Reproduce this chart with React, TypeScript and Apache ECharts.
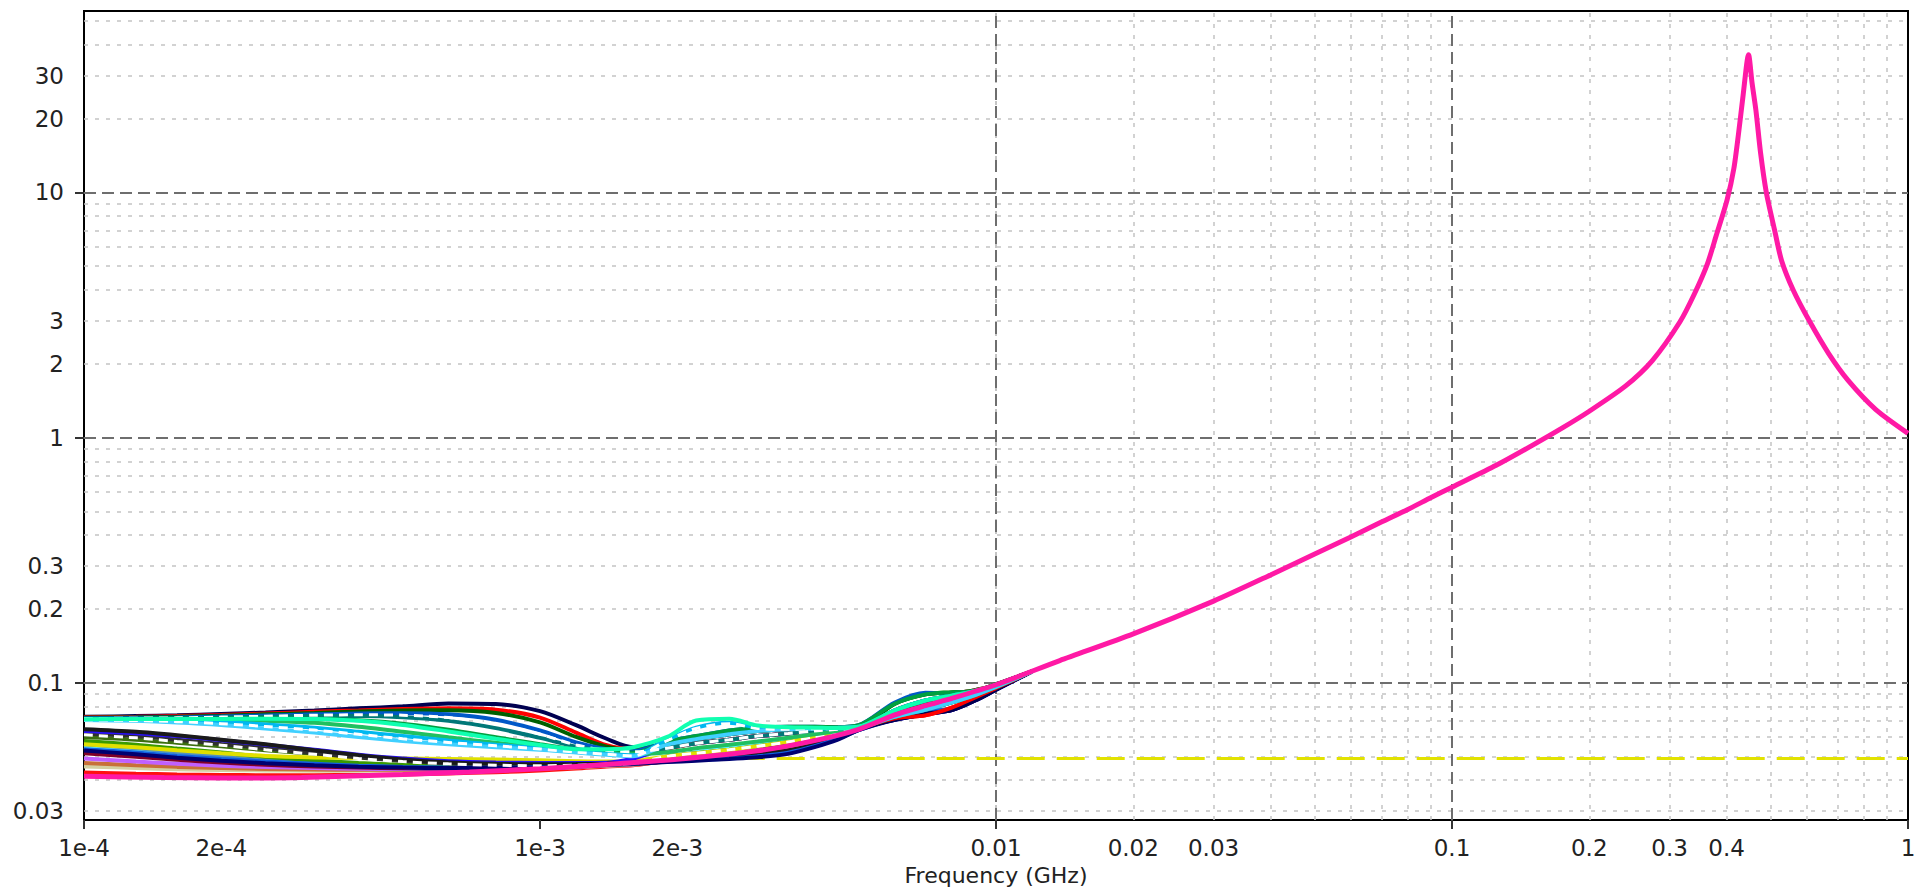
import { useEffect, useRef } from 'react';
import * as echarts from 'echarts';

// Axis ranges (GHz on x, impedance magnitude on y)
const X_MIN = 1e-4;
const X_MAX = 1;
const Y_MIN = 0.0275;
const Y_MAX = 55;

const X_LABEL_VALUES = [1e-4, 2e-4, 1e-3, 2e-3, 0.01, 0.02, 0.03, 0.1, 0.2, 0.3, 0.4, 1];
const X_LABEL_TEXT = ['1e-4', '2e-4', '1e-3', '2e-3', '0.01', '0.02', '0.03', '0.1', '0.2', '0.3', '0.4', '1'];
const Y_LABEL_VALUES = [0.03, 0.1, 0.2, 0.3, 1, 2, 3, 10, 20, 30];
const Y_LABEL_TEXT = ['0.03', '0.1', '0.2', '0.3', '1', '2', '3', '10', '20', '30'];

const X_DECADES = [1e-4, 1e-3, 1e-2, 1e-1, 1];
const Y_DECADES = [0.01, 0.1, 1, 10];
const X_MAJOR_GRID = [1e-3, 1e-2, 1e-1];
const Y_MAJOR_GRID = [0.1, 1, 10];
const SUB_STEPS = [2, 3, 4, 5, 6, 7, 8, 9];

// Sweep frequencies shared by the family of traces
const FREQ = [
  1e-4, 1.3e-4, 1.6e-4, 2e-4, 2.5e-4, 3.2e-4, 4e-4, 5e-4, 6.3e-4, 8e-4,
  1e-3, 1.2e-3, 1.4e-3, 1.6e-3, 1.9e-3, 2.2e-3, 2.6e-3, 3e-3, 3.5e-3, 4e-3,
  4.5e-3, 5e-3, 6e-3, 7e-3, 8e-3, 9e-3, 1e-2, 1.2e-2,
];

const NAVY = [0.0725, 0.073, 0.0735, 0.0745, 0.0755, 0.077, 0.0785, 0.080, 0.0822, 0.0818, 0.0765, 0.067, 0.059, 0.0545, 0.0558, 0.0588, 0.0615, 0.0635, 0.0645, 0.065, 0.0655, 0.066, 0.0705, 0.0745, 0.0772, 0.0845, 0.0935, 0.111];
const RED = [0.0722, 0.0726, 0.073, 0.0738, 0.0748, 0.076, 0.077, 0.078, 0.0785, 0.0775, 0.072, 0.0625, 0.0555, 0.0535, 0.054, 0.0565, 0.0585, 0.0605, 0.062, 0.0635, 0.0645, 0.0655, 0.0715, 0.0735, 0.079, 0.087, 0.095, 0.111];
const DKGREEN = [0.0718, 0.0722, 0.0726, 0.0733, 0.0742, 0.0752, 0.0762, 0.077, 0.0772, 0.0752, 0.0688, 0.060, 0.0548, 0.053, 0.0558, 0.0588, 0.0615, 0.0635, 0.0645, 0.065, 0.0655, 0.066, 0.082, 0.0895, 0.0912, 0.0925, 0.0985, 0.111];
const BLUE = [0.0715, 0.0718, 0.0721, 0.0727, 0.0734, 0.0742, 0.0748, 0.075, 0.0742, 0.0705, 0.0638, 0.057, 0.0535, 0.0525, 0.0575, 0.0605, 0.0638, 0.0655, 0.066, 0.066, 0.0658, 0.067, 0.083, 0.091, 0.0905, 0.092, 0.098, 0.111];
const TEAL = [0.0712, 0.0714, 0.0716, 0.072, 0.0725, 0.073, 0.073, 0.0722, 0.0698, 0.0652, 0.0595, 0.0548, 0.0528, 0.052, 0.054, 0.0565, 0.0585, 0.0605, 0.062, 0.0635, 0.0645, 0.0655, 0.077, 0.0845, 0.0885, 0.0925, 0.0975, 0.111];
const GREEN = [0.071, 0.0711, 0.0712, 0.0713, 0.0714, 0.0712, 0.0702, 0.068, 0.0642, 0.0598, 0.056, 0.0532, 0.052, 0.0515, 0.0575, 0.0605, 0.0638, 0.0655, 0.066, 0.066, 0.0658, 0.067, 0.082, 0.0895, 0.0912, 0.0925, 0.0985, 0.111];
const SPRING = [0.0708, 0.0708, 0.0707, 0.0705, 0.0698, 0.0685, 0.066, 0.063, 0.0598, 0.0568, 0.0545, 0.0525, 0.0515, 0.051, 0.052, 0.054, 0.0558, 0.0575, 0.0595, 0.0615, 0.0635, 0.065, 0.0725, 0.0775, 0.083, 0.089, 0.096, 0.111];
const CYAN = [0.0706, 0.0703, 0.0698, 0.069, 0.0675, 0.0655, 0.063, 0.0605, 0.058, 0.0558, 0.054, 0.0522, 0.0512, 0.0505, 0.0585, 0.0655, 0.0685, 0.0655, 0.065, 0.065, 0.065, 0.0658, 0.077, 0.0845, 0.0885, 0.0925, 0.0975, 0.111];
const LIGHTBLUE = [0.0704, 0.0698, 0.0688, 0.0672, 0.065, 0.0625, 0.060, 0.0578, 0.056, 0.0545, 0.0532, 0.0518, 0.0508, 0.050, 0.0558, 0.0588, 0.0615, 0.0635, 0.0645, 0.065, 0.0655, 0.066, 0.0725, 0.0775, 0.083, 0.089, 0.096, 0.111];
const MINT = [0.0709, 0.071, 0.071, 0.0711, 0.0712, 0.071, 0.0698, 0.0672, 0.0632, 0.059, 0.0556, 0.0535, 0.0535, 0.0545, 0.060, 0.070, 0.0712, 0.0668, 0.0658, 0.0655, 0.0652, 0.066, 0.077, 0.0845, 0.0885, 0.0925, 0.0975, 0.111];
const WHITE1 = [0.0713, 0.0716, 0.0718, 0.0723, 0.0729, 0.0736, 0.0739, 0.0736, 0.072, 0.0678, 0.0616, 0.0556, 0.053, 0.0522, 0.054, 0.0565, 0.0585, 0.0605, 0.062, 0.0635, 0.0645, 0.0655, 0.0738, 0.0805, 0.0862, 0.092, 0.098, 0.111];
const WHITE2 = [0.0705, 0.070, 0.0693, 0.068, 0.0662, 0.064, 0.0615, 0.059, 0.057, 0.0552, 0.0536, 0.052, 0.051, 0.0502, 0.058, 0.065, 0.068, 0.065, 0.0645, 0.0648, 0.065, 0.0655, 0.0738, 0.0805, 0.0862, 0.092, 0.098, 0.111];
const WHITE3 = [0.0612, 0.0595, 0.0575, 0.0555, 0.0532, 0.051, 0.049, 0.0476, 0.0466, 0.046, 0.0458, 0.046, 0.0464, 0.0468, 0.05, 0.0515, 0.0532, 0.055, 0.0572, 0.0598, 0.0622, 0.0648, 0.0738, 0.0805, 0.0862, 0.092, 0.098, 0.111];
const BLACK = [0.0645, 0.063, 0.061, 0.0585, 0.056, 0.053, 0.0505, 0.0485, 0.0472, 0.0466, 0.0464, 0.0465, 0.0467, 0.047, 0.0478, 0.0487, 0.0498, 0.051, 0.0528, 0.0558, 0.0595, 0.0643, 0.0725, 0.0775, 0.083, 0.089, 0.096, 0.111];
const INDIGO = [0.0635, 0.0622, 0.0605, 0.0582, 0.0558, 0.0532, 0.0508, 0.049, 0.0478, 0.0472, 0.047, 0.047, 0.0471, 0.049, 0.054, 0.0565, 0.0585, 0.0605, 0.062, 0.0635, 0.0645, 0.0655, 0.0705, 0.0745, 0.0772, 0.0845, 0.0935, 0.111];
const DARK = [0.062, 0.0605, 0.0585, 0.0562, 0.054, 0.0515, 0.0495, 0.048, 0.0468, 0.0462, 0.046, 0.0462, 0.0465, 0.0468, 0.0482, 0.0493, 0.0508, 0.0527, 0.0552, 0.058, 0.061, 0.0645, 0.0738, 0.0805, 0.0862, 0.092, 0.098, 0.111];
const YELLOW = [0.056, 0.0545, 0.053, 0.0515, 0.0502, 0.0495, 0.0492, 0.049, 0.0488, 0.0485, 0.0482, 0.0478, 0.0476, 0.0478, 0.05, 0.0515, 0.0532, 0.055, 0.0572, 0.0598, 0.0622, 0.0648, 0.0738, 0.0805, 0.0862, 0.092, 0.098, 0.111];
const OLIVE = [0.060, 0.0585, 0.0568, 0.055, 0.053, 0.0512, 0.0496, 0.0484, 0.0474, 0.0467, 0.0462, 0.0462, 0.0464, 0.0466, 0.05, 0.0515, 0.0532, 0.055, 0.0572, 0.0598, 0.0622, 0.0648, 0.0765, 0.083, 0.0895, 0.0932, 0.0975, 0.111];
const LEAF = [0.0578, 0.0558, 0.0538, 0.0518, 0.0498, 0.0482, 0.047, 0.0462, 0.0457, 0.0455, 0.0456, 0.046, 0.0465, 0.0468, 0.0482, 0.0493, 0.0508, 0.0527, 0.0552, 0.058, 0.061, 0.0645, 0.082, 0.0895, 0.0912, 0.0925, 0.0985, 0.111];
const STEEL = [0.056, 0.054, 0.052, 0.0502, 0.0486, 0.0472, 0.0462, 0.0455, 0.0452, 0.0451, 0.0453, 0.0458, 0.0464, 0.0467, 0.0482, 0.0493, 0.0508, 0.0527, 0.0552, 0.058, 0.061, 0.0645, 0.077, 0.0845, 0.0885, 0.0925, 0.0975, 0.111];
const AQUA = [0.0545, 0.0525, 0.0508, 0.0492, 0.0478, 0.0466, 0.0458, 0.0452, 0.0449, 0.0448, 0.045, 0.0456, 0.0463, 0.0466, 0.0495, 0.052, 0.0545, 0.0565, 0.059, 0.0612, 0.0632, 0.065, 0.0725, 0.0775, 0.083, 0.089, 0.096, 0.111];
const MAROON = [0.0515, 0.0498, 0.0484, 0.0472, 0.0462, 0.0455, 0.045, 0.0447, 0.0446, 0.0446, 0.0448, 0.0454, 0.0461, 0.0465, 0.0478, 0.0487, 0.0498, 0.051, 0.0528, 0.0558, 0.0595, 0.0643, 0.0765, 0.083, 0.0895, 0.0932, 0.0975, 0.111];
const PURPLE = [0.049, 0.0476, 0.0466, 0.0458, 0.0452, 0.0448, 0.0445, 0.0444, 0.0444, 0.0445, 0.0448, 0.0453, 0.046, 0.0464, 0.0482, 0.0493, 0.0508, 0.0527, 0.0552, 0.058, 0.061, 0.0645, 0.0738, 0.0805, 0.0862, 0.092, 0.098, 0.111];
const ORANGE = [0.047, 0.046, 0.0453, 0.0448, 0.0444, 0.0442, 0.0441, 0.0441, 0.0442, 0.0444, 0.0447, 0.0452, 0.0459, 0.0463, 0.0478, 0.0487, 0.0498, 0.051, 0.0528, 0.0558, 0.0595, 0.0643, 0.077, 0.0845, 0.0885, 0.0925, 0.0975, 0.111];
const KHAKI = [0.0455, 0.0448, 0.0443, 0.044, 0.0438, 0.0437, 0.0437, 0.0438, 0.044, 0.0443, 0.0446, 0.0451, 0.0458, 0.0462, 0.0482, 0.0493, 0.0508, 0.0527, 0.0552, 0.058, 0.061, 0.0645, 0.0738, 0.0805, 0.0862, 0.092, 0.098, 0.111];
const SCARLET = [0.043, 0.0425, 0.0422, 0.042, 0.0419, 0.0419, 0.042, 0.0422, 0.0426, 0.0431, 0.0438, 0.0446, 0.0455, 0.046, 0.0478, 0.0487, 0.0498, 0.051, 0.0528, 0.0558, 0.0595, 0.0643, 0.0715, 0.0735, 0.079, 0.087, 0.095, 0.111];
const NAVY2 = [0.0528, 0.051, 0.0494, 0.048, 0.0469, 0.046, 0.0454, 0.045, 0.0448, 0.0448, 0.045, 0.0455, 0.0462, 0.0466, 0.0474, 0.048, 0.0488, 0.0496, 0.0512, 0.0545, 0.0585, 0.064, 0.0705, 0.0745, 0.0772, 0.0845, 0.0935, 0.111];
const ROYAL = [0.0535, 0.0518, 0.0502, 0.0488, 0.0476, 0.0466, 0.0458, 0.0453, 0.045, 0.0449, 0.0451, 0.0456, 0.0463, 0.0468, 0.0476, 0.0483, 0.049, 0.05, 0.0518, 0.055, 0.059, 0.064, 0.071, 0.076, 0.0785, 0.085, 0.0938, 0.111];

// Full-range trace with the series resonance near 0.45 GHz
const MAIN_FREQ = [
  1e-4, 1.5e-4, 2e-4, 3e-4, 5e-4, 7e-4, 1e-3, 1.5e-3, 2e-3, 3e-3, 4e-3, 5e-3, 6e-3, 7e-3, 8e-3,
  1e-2, 1.38e-2, 2e-2, 3e-2, 4e-2, 5e-2, 6e-2, 7e-2, 8e-2, 9e-2, 0.1, 0.125, 0.15, 0.175, 0.2,
  0.24, 0.275, 0.316, 0.34, 0.363, 0.38, 0.401, 0.415, 0.425, 0.435, 0.447, 0.455, 0.464, 0.475,
  0.489, 0.51, 0.528, 0.56, 0.607, 0.67, 0.739, 0.85, 1.0,
];
const MAIN_Z = [
  0.0415, 0.041, 0.0408, 0.041, 0.0422, 0.0432, 0.0445, 0.0468, 0.0487, 0.0527, 0.058, 0.0645, 0.0738, 0.0805, 0.0862,
  0.098, 0.123, 0.158, 0.215, 0.275, 0.335, 0.393, 0.452, 0.509, 0.569, 0.627, 0.770, 0.929, 1.097, 1.28,
  1.62, 2.06, 2.96, 3.85, 5.1, 6.7, 9.3, 12.5, 17.4, 25, 36.5, 28, 21.6, 14.5,
  10, 7.0, 5.28, 4.0, 3.0, 2.2, 1.71, 1.3, 1.04,
];

// Target impedance line
const TARGET_FREQ = [2.7e-3, 1];
const TARGET_Z = [0.049, 0.049];

const FAMILY = [
  { name: 'Z 1', color: '#ff1010', values: SCARLET },
  { name: 'Z 2', color: '#d4d0a0', values: KHAKI },
  { name: 'Z 3', color: '#c87038', values: ORANGE },
  { name: 'Z 4', color: '#c060ff', values: PURPLE },
  { name: 'Z 5', color: '#800028', values: MAROON },
  { name: 'Z 6', color: '#60f0ff', values: AQUA },
  { name: 'Z 7', color: '#5090c0', values: STEEL },
  { name: 'Z 8', color: '#3a9a00', values: LEAF },
  { name: 'Z 9', color: '#3c6e10', values: OLIVE },
  { name: 'Z 10', color: '#e0e000', values: YELLOW },
  { name: 'Z 11', color: '#303030', values: DARK },
  { name: 'Z 12', color: '#2a10ff', values: INDIGO },
  { name: 'Z 13', color: '#1a1a1a', values: BLACK },
  { name: 'Z 14', color: '#1060e0', values: ROYAL },
  { name: 'Z 15', color: '#000070', values: NAVY2 },
  { name: 'Z 16', color: '#ffffff', values: WHITE3, dashed: true },
  { name: 'Z 17', color: '#000050', values: NAVY },
  { name: 'Z 18', color: '#ff0000', values: RED },
  { name: 'Z 19', color: '#006000', values: DKGREEN },
  { name: 'Z 20', color: '#0058c8', values: BLUE },
  { name: 'Z 21', color: '#007878', values: TEAL },
  { name: 'Z 22', color: '#00a040', values: GREEN },
  { name: 'Z 23', color: '#20c060', values: SPRING },
  { name: 'Z 24', color: '#00b8f0', values: CYAN },
  { name: 'Z 25', color: '#40d0ff', values: LIGHTBLUE },
  { name: 'Z 26', color: '#ffffff', values: WHITE1, dashed: true },
  { name: 'Z 27', color: '#ffffff', values: WHITE2, dashed: true },
  { name: 'Z 28', color: '#10ffb0', values: MINT },
];

const FONT = "'DejaVu Sans', 'Liberation Sans', sans-serif";

function labelFormatter(values: number[], texts: string[]) {
  return (v: number) => {
    for (let i = 0; i < values.length; i++) {
      if (Math.abs(Math.log10(v) - Math.log10(values[i])) < 1e-4) return texts[i];
    }
    return '';
  };
}

function pairs(xs: number[], ys: number[]) {
  return xs.map((x, i) => [x, ys[i]]);
}

export default function App() {
  const ref = useRef<HTMLDivElement>(null);

  useEffect(() => {
    if (!ref.current) return;
    const chart = echarts.init(ref.current, undefined, { renderer: 'svg' });

    const xMinor = X_DECADES.slice(0, 4).flatMap((d) => SUB_STEPS.map((m) => m * d));
    const yMinor = Y_DECADES.flatMap((d) => SUB_STEPS.map((m) => m * d)).filter(
      (v) => v > Y_MIN && v < Y_MAX,
    );

    const minorStyle = { color: '#c4c4c4', width: 1.5, type: [4, 7] as number[] };
    const majorStyle = { color: '#6e6e6e', width: 2, type: [12, 6] as number[] };

    const gridSeries = [
      {
        type: 'line',
        data: [],
        silent: true,
        z: 1,
        markLine: {
          silent: true,
          symbol: 'none',
          z: 1,
          label: { show: false },
          lineStyle: minorStyle,
          emphasis: { disabled: true },
          data: [...xMinor.map((v) => ({ xAxis: v })), ...yMinor.map((v) => ({ yAxis: v }))],
        },
      },
      {
        type: 'line',
        data: [],
        silent: true,
        z: 1,
        markLine: {
          silent: true,
          symbol: 'none',
          z: 1,
          label: { show: false },
          lineStyle: majorStyle,
          emphasis: { disabled: true },
          data: [...X_MAJOR_GRID.map((v) => ({ xAxis: v })), ...Y_MAJOR_GRID.map((v) => ({ yAxis: v }))],
        },
      },
    ];

    const familySeries = FAMILY.map((c) => ({
      name: c.name,
      type: 'line',
      data: pairs(FREQ, c.values),
      showSymbol: false,
      symbol: 'none',
      smooth: 0.3,
      silent: true,
      z: 10,
      lineStyle: {
        color: c.color,
        width: c.dashed ? 3 : 4,
        type: c.dashed ? [9, 6] : 'solid',
      },
    }));

    chart.setOption({
      animation: false,
      backgroundColor: '#ffffff',
      grid: {
        left: 84,
        right: 6,
        top: 11,
        bottom: 69,
        outerBoundsMode: 'none',
        show: true,
        borderColor: '#000',
        borderWidth: 2,
        backgroundColor: 'transparent',
      },
      xAxis: {
        type: 'log',
        logBase: 10,
        min: X_MIN,
        max: X_MAX,
        name: 'Frequency (GHz)',
        nameLocation: 'middle',
        nameGap: 41,
        nameTextStyle: { fontFamily: FONT, fontSize: 22, color: '#222', lineHeight: 24 },
        axisLine: { show: true, lineStyle: { color: '#000', width: 2 } },
        axisTick: {
          show: true,
          inside: false,
          length: 9,
          customValues: X_DECADES,
          lineStyle: { color: '#333', width: 2 },
        },
        axisLabel: {
          customValues: X_LABEL_VALUES,
          formatter: labelFormatter(X_LABEL_VALUES, X_LABEL_TEXT),
          margin: 16,
          fontFamily: FONT,
          fontSize: 23,
          color: '#222',
        },
        splitLine: { show: false },
        minorTick: { show: false },
        minorSplitLine: { show: false },
      },
      yAxis: {
        type: 'log',
        logBase: 10,
        min: Y_MIN,
        max: Y_MAX,
        axisLine: { show: true, lineStyle: { color: '#000', width: 2 } },
        axisTick: {
          show: true,
          inside: false,
          length: 9,
          customValues: Y_MAJOR_GRID,
          lineStyle: { color: '#333', width: 2 },
        },
        axisLabel: {
          customValues: Y_LABEL_VALUES,
          formatter: labelFormatter(Y_LABEL_VALUES, Y_LABEL_TEXT),
          margin: 20,
          fontFamily: FONT,
          fontSize: 23,
          color: '#222',
        },
        splitLine: { show: false },
        minorTick: { show: false },
        minorSplitLine: { show: false },
      },
      series: [
        ...gridSeries,
        {
          name: 'Target',
          type: 'line',
          data: pairs(TARGET_FREQ, TARGET_Z),
          showSymbol: false,
          symbol: 'none',
          silent: true,
          z: 9,
          lineStyle: { color: '#e2e200', width: 3, type: [28, 12] },
        },
        ...familySeries,
        {
          name: 'Z main',
          type: 'line',
          data: pairs(MAIN_FREQ, MAIN_Z),
          showSymbol: false,
          symbol: 'none',
          smooth: 0.25,
          silent: true,
          z: 12,
          lineStyle: { color: '#ff19a5', width: 5 },
        },
      ],
    });

    return () => chart.dispose();
  }, []);

  return (
    <div
      ref={ref}
      style={{ position: 'fixed', left: 0, top: 0, width: 1914, height: 889, background: '#fff' }}
    />
  );
}
